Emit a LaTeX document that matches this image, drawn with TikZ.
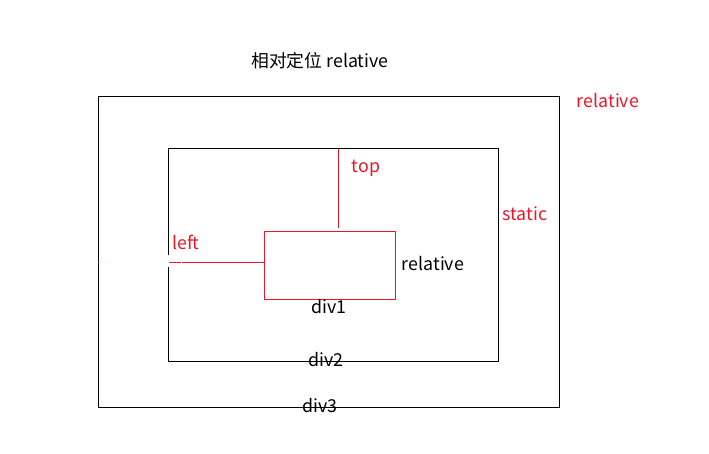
\documentclass[tikz,border=0pt]{standalone}
\usepackage{fontspec}
\setmainfont{Noto Sans CJK SC}
\definecolor{cssred}{RGB}{232,24,44}
\begin{document}
\begin{tikzpicture}[x=1pt,y=-1pt,
  box/.style={draw=black,line width=1pt},
  redbox/.style={draw=cssred,line width=1pt},
  lbl/.style={font=\fontsize{17.8}{20}\selectfont,inner sep=0pt,anchor=center},
  redlbl/.style={lbl,text=cssred}]
\useasboundingbox[fill=white] (0,0) rectangle (709,453);
% div3
\draw[box] (98.5,96.5) rectangle (559.5,407.5);
% div2 with gap on left side
\draw[box] (168.5,255) -- (168.5,148.5) -- (498.5,148.5) -- (498.5,361.5) -- (168.5,361.5) -- (168.5,267);
% div1
\draw[redbox] (264.5,231.5) rectangle (395.5,299.5);
\coordinate (div1left) at (264.5,262.5);
\coordinate (div1top) at (338.5,228);
\coordinate (div2top) at (338.5,148.5);
\coordinate (leftstart) at (182,262.5);
\coordinate (shortA) at (169,262.5);
\coordinate (shortB) at (181,262.5);
\draw[redbox] (div2top) -- (div1top);
\draw[redbox] (leftstart) -- (div1left);
\draw[redbox] (shortA) -- (shortB);
\fill[cssred] (98,262) rectangle (99,263);
% labels
\node[lbl] (title) at (320,61) {相对定位 relative};
\node[redlbl] (r3) at (608,101) {relative};
\node[redlbl] (top) at (366,168) {top};
\node[redlbl] (static) at (525,214) {static};
\node[redlbl] (left) at (186,242) {left};
\node[lbl] (r1) at (433,264) {relative};
\node[lbl] (d1) at (329,307) {div1};
\node[lbl] (d2) at (326,360) {div2};
\node[lbl] (d3) at (320,406) {div3};
\end{tikzpicture}
\end{document}
